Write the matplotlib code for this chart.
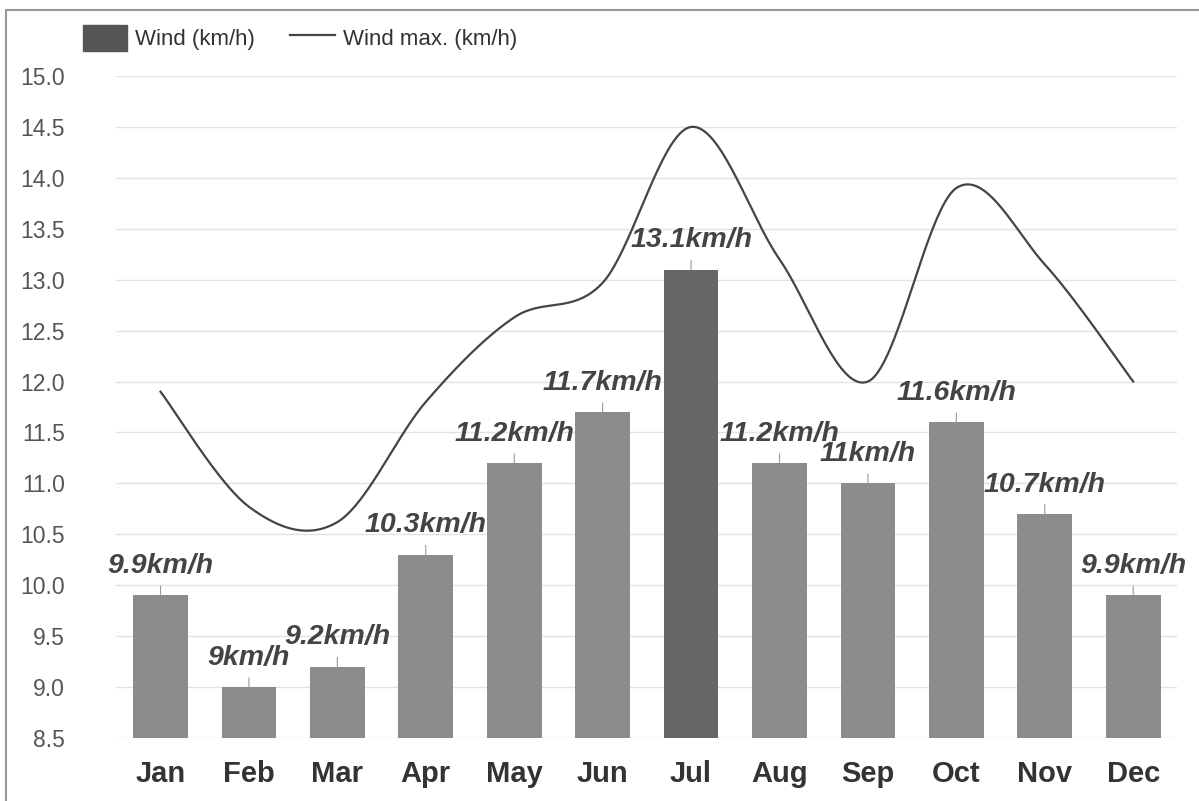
import numpy as np
import matplotlib
matplotlib.use('Agg')
import matplotlib.pyplot as plt
from matplotlib.patches import Rectangle

months = ['Jan', 'Feb', 'Mar', 'Apr', 'May', 'Jun',
          'Jul', 'Aug', 'Sep', 'Oct', 'Nov', 'Dec']
wind = [9.9, 9.0, 9.2, 10.3, 11.2, 11.7, 13.1, 11.2, 11.0, 11.6, 10.7, 9.9]
wind_labels = ['9.9km/h', '9km/h', '9.2km/h', '10.3km/h', '11.2km/h',
               '11.7km/h', '13.1km/h', '11.2km/h', '11km/h', '11.6km/h',
               '10.7km/h', '9.9km/h']
wind_max = [11.9, 10.77, 10.62, 11.8, 12.63, 12.97,
            14.5, 13.2, 12.0, 13.9, 13.15, 12.0]
yticks = [8.5, 9.0, 9.5, 10.0, 10.5, 11.0, 11.5, 12.0, 12.5, 13.0, 13.5,
          14.0, 14.5, 15.0]


def catmull_rom(xs, ys, n=40):
    # smooth curve through the points (same look as the original chart)
    xs = np.asarray(xs, float)
    ys = np.asarray(ys, float)
    px = np.concatenate([[xs[0]], xs, [xs[-1]]])
    py = np.concatenate([[ys[0]], ys, [ys[-1]]])
    out_x, out_y = [], []
    for i in range(1, len(px) - 2):
        t = np.linspace(0, 1, n, endpoint=False)
        h00 = 2 * t**3 - 3 * t**2 + 1
        h10 = t**3 - 2 * t**2 + t
        h01 = -2 * t**3 + 3 * t**2
        h11 = t**3 - t**2
        m0x = (px[i + 1] - px[i - 1]) / 2
        m1x = (px[i + 2] - px[i]) / 2
        m0y = (py[i + 1] - py[i - 1]) / 2
        m1y = (py[i + 2] - py[i]) / 2
        out_x.append(h00 * px[i] + h10 * m0x + h01 * px[i + 1] + h11 * m1x)
        out_y.append(h00 * py[i] + h10 * m0y + h01 * py[i + 1] + h11 * m1y)
    out_x.append([xs[-1]])
    out_y.append([ys[-1]])
    return np.concatenate(out_x), np.concatenate(out_y)


font = ['Liberation Sans', 'DejaVu Sans']

fig = plt.figure(figsize=(11.99, 8.01), dpi=100)
ax = fig.add_axes([0.097, 0.0787, 0.885, 0.8264])

x = np.arange(len(months))
colors = ['#8c8c8c'] * len(months)
colors[6] = '#666666'
bars = ax.bar(x, wind, width=0.62, color=colors, zorder=2)

sx, sy = catmull_rom(x, wind_max)
line, = ax.plot(sx, sy, color='#444444', lw=1.6, zorder=3)

for xi, v, lab in zip(x, wind, wind_labels):
    ax.annotate(lab, xy=(xi, v), xytext=(0, 16), textcoords='offset points',
                ha='center', va='baseline', fontsize=20.5, fontweight='bold',
                fontstyle='italic', color='#444444', family=font, zorder=4,
                arrowprops=dict(arrowstyle='-', color='#999999', lw=0.8,
                                shrinkA=3, shrinkB=0))

ax.set_xlim(-0.5, 11.5)
ax.set_ylim(8.5, 15.0)
ax.set_yticks(yticks)
ax.set_yticklabels([f'{t:.1f}' for t in yticks], family=font,
                   fontsize=16.5, color='#555555')
ax.set_xticks(x)
ax.set_xticklabels(months, family=font, fontsize=21, fontweight='bold',
                   color='#333333')
ax.tick_params(axis='y', length=0, pad=37)
ax.tick_params(axis='x', length=0, pad=16)
ax.grid(axis='y', color='#e2e2e2', lw=1, zorder=0)
for s in ax.spines.values():
    s.set_visible(False)

leg = ax.legend([bars, line], ['Wind (km/h)', 'Wind max. (km/h)'],
                loc='center left', bbox_to_anchor=(0.069, 0.9526),
                bbox_transform=fig.transFigure, ncol=2, frameon=False,
                prop={'family': font, 'size': 16}, handlelength=2.0,
                handleheight=1.36, handletextpad=0.35, columnspacing=1.6,
                borderpad=0, borderaxespad=0)
leg.legend_handles[0].set_color('#555555')
for t in leg.get_texts():
    t.set_color('#333333')

fig.patches.append(Rectangle((0.005, -0.1), 1.2, 1.0875, fill=False,
                             edgecolor='#999999', lw=1.5,
                             transform=fig.transFigure, figure=fig))

fig.savefig('out.png', dpi=100)
